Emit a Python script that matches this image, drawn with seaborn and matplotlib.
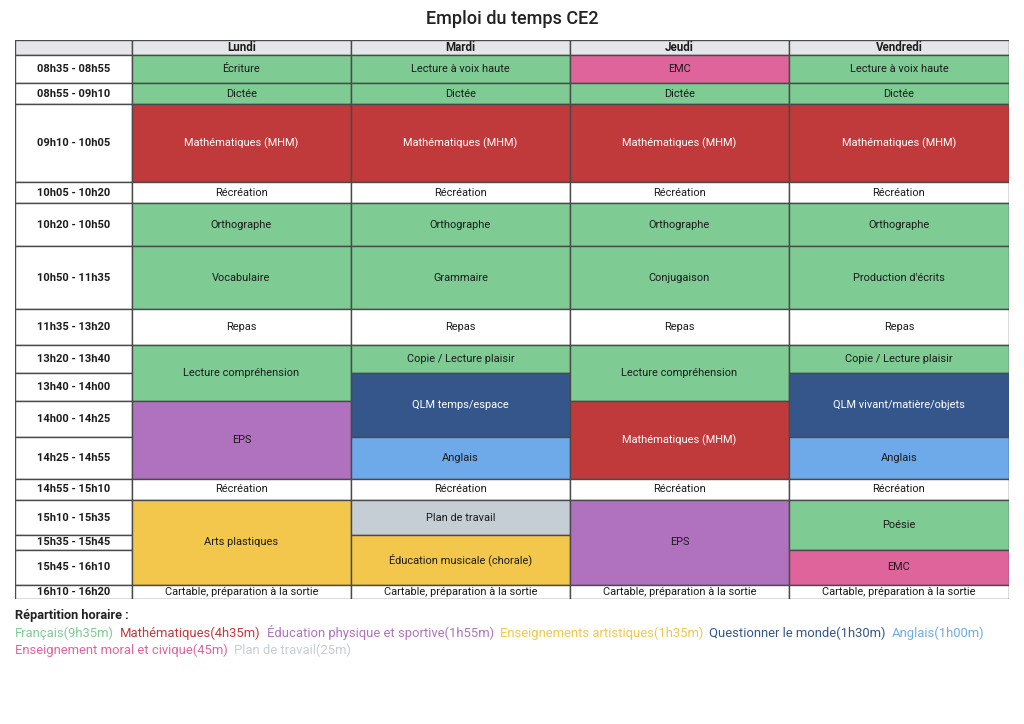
import matplotlib
matplotlib.use("Agg")
import matplotlib.pyplot as plt
import seaborn as sns

# -----------------------------
# DATA
# -----------------------------
title = "Emploi du temps CE2"
days = ["Lundi", "Mardi", "Jeudi", "Vendredi"]
time_slots = [
    "08h35 - 08h55", "08h55 - 09h10", "09h10 - 10h05", "10h05 - 10h20",
    "10h20 - 10h50", "10h50 - 11h35", "11h35 - 13h20", "13h20 - 13h40",
    "13h40 - 14h00", "14h00 - 14h25", "14h25 - 14h55", "14h55 - 15h10",
    "15h10 - 15h35", "15h35 - 15h45", "15h45 - 16h10", "16h10 - 16h20",
]

# (label, number of rows covered, subject key)
lundi = [
    ("Écriture", 1, "fr"), ("Dictée", 1, "fr"), ("Mathématiques (MHM)", 1, "math"),
    ("Récréation", 1, None), ("Orthographe", 1, "fr"), ("Vocabulaire", 1, "fr"),
    ("Repas", 1, None), ("Lecture compréhension", 2, "fr"), ("EPS", 2, "eps"),
    ("Récréation", 1, None), ("Arts plastiques", 3, "art"),
    ("Cartable, préparation à la sortie", 1, None),
]
mardi = [
    ("Lecture à voix haute", 1, "fr"), ("Dictée", 1, "fr"), ("Mathématiques (MHM)", 1, "math"),
    ("Récréation", 1, None), ("Orthographe", 1, "fr"), ("Grammaire", 1, "fr"),
    ("Repas", 1, None), ("Copie / Lecture plaisir", 1, "fr"), ("QLM temps/espace", 2, "qlm"),
    ("Anglais", 1, "ang"), ("Récréation", 1, None), ("Plan de travail", 1, "plan"),
    ("Éducation musicale (chorale)", 2, "art"),
    ("Cartable, préparation à la sortie", 1, None),
]
jeudi = [
    ("EMC", 1, "emc"), ("Dictée", 1, "fr"), ("Mathématiques (MHM)", 1, "math"),
    ("Récréation", 1, None), ("Orthographe", 1, "fr"), ("Conjugaison", 1, "fr"),
    ("Repas", 1, None), ("Lecture compréhension", 2, "fr"), ("Mathématiques (MHM)", 2, "math"),
    ("Récréation", 1, None), ("EPS", 3, "eps"),
    ("Cartable, préparation à la sortie", 1, None),
]
vendredi = [
    ("Lecture à voix haute", 1, "fr"), ("Dictée", 1, "fr"), ("Mathématiques (MHM)", 1, "math"),
    ("Récréation", 1, None), ("Orthographe", 1, "fr"), ("Production d'écrits", 1, "fr"),
    ("Repas", 1, None), ("Copie / Lecture plaisir", 1, "fr"),
    ("QLM vivant/matière/objets", 2, "qlm"), ("Anglais", 1, "ang"),
    ("Récréation", 1, None), ("Poésie", 2, "fr"), ("EMC", 1, "emc"),
    ("Cartable, préparation à la sortie", 1, None),
]
schedule = [lundi, mardi, jeudi, vendredi]

subject_keys = ["fr", "math", "eps", "art", "qlm", "ang", "emc", "plan"]
subject_names = ["Français", "Mathématiques", "Éducation physique et sportive",
                 "Enseignements artistiques", "Questionner le monde", "Anglais",
                 "Enseignement moral et civique", "Plan de travail"]
subject_colors = ["#7ecb94", "#c0393b", "#b072bf", "#f2c74b",
                  "#34568a", "#6eaae9", "#e0649c", "#c5cdd5"]
white_text = ["math", "qlm"]

# -----------------------------
# STYLE
# -----------------------------
sns.set_theme(style="white")
plt.rcParams["font.family"] = ["Roboto", "DejaVu Sans"]

color_of = dict(zip(subject_keys, subject_colors))


def to_min(t):
    h, m = t.split("h")
    return int(h) * 60 + int(m)


durations = []
for s in time_slots:
    a, b = s.split(" - ")
    durations.append(to_min(b) - to_min(a))

# lunch row is drawn compressed
row_h = [d if d < 100 else 25 for d in durations]
header_h = 10.6
row_top = [header_h]
for h in row_h:
    row_top.append(row_top[-1] + h)

col_w = [117 / 219, 1, 1, 1, 1.005]
col_x = [0]
for w in col_w:
    col_x.append(col_x[-1] + w)

# -----------------------------
# FIGURE
# -----------------------------
fig = plt.figure(figsize=(10.24, 7.24), dpi=100)
W, H = 1024, 724
ax = fig.add_axes([15 / W, 1 - 599 / H, 994 / W, 559 / H])
ax.set_xlim(col_x[0], col_x[-1])
ax.set_ylim(row_top[-1], 0)
ax.axis("off")

edge = "#4a4a4a"
lw = 1.0

def cell(x0, x1, y0, y1, color, label, tcolor="#1c1c1c", weight="normal", size=7.9):
    ax.bar(x0, y1 - y0, width=x1 - x0, bottom=y0, align="edge",
           color=color, edgecolor=edge, linewidth=lw, zorder=2)
    ax.text((x0 + x1) / 2, (y0 + y1) / 2, label, ha="center", va="center",
            fontsize=size, color=tcolor, weight=weight, zorder=3)

# header
cell(col_x[0], col_x[1], 0, header_h, "#e4e6e9", "")
for i, d in enumerate(days):
    cell(col_x[i + 1], col_x[i + 2], 0, header_h, "#e4e6e9", d, weight="bold", size=8.3)

# time column
for r, s in enumerate(time_slots):
    cell(col_x[0], col_x[1], row_top[r], row_top[r + 1], "white", s, weight="bold", size=8.0)

# day columns
for c, day in enumerate(schedule):
    r = 0
    for label, span, key in day:
        color = color_of[key] if key else "white"
        tcol = "white" if key in white_text else "#1c1c1c"
        cell(col_x[c + 1], col_x[c + 2], row_top[r], row_top[r + span], color, label, tcolor=tcol)
        r += span

# title
fig.text(0.5, 1 - 19 / H, title, ha="center", va="center", fontsize=13,
         weight="medium", color="#222222")

# -----------------------------
# REPARTITION HORAIRE
# -----------------------------
totals = dict((k, 0) for k in subject_keys)
for day in schedule:
    r = 0
    for label, span, key in day:
        if key:
            totals[key] += sum(durations[r:r + span])
        r += span


def fmt(m):
    if m >= 60:
        return "%dh%02dm" % (m // 60, m % 60)
    return "%dm" % m


fig.text(15 / W, 1 - 616 / H, "Répartition horaire :", ha="left", va="center",
         fontsize=9.2, weight="bold", color="#222222")

renderer = fig.canvas.get_renderer()
x = 15
y = 633
for k, name, col in zip(subject_keys, subject_names, subject_colors):
    txt = "%s(%s)" % (name, fmt(totals[k]))
    t = fig.text(x / W, 1 - y / H, txt, ha="left", va="center", fontsize=9.4, color=col)
    bb = t.get_window_extent(renderer)
    if bb.x1 > 1009:
        x = 15
        y += 17
        t.set_position((x / W, 1 - y / H))
        bb = t.get_window_extent(renderer)
    x = bb.x1 + 6

fig.savefig("out.png", dpi=100)
